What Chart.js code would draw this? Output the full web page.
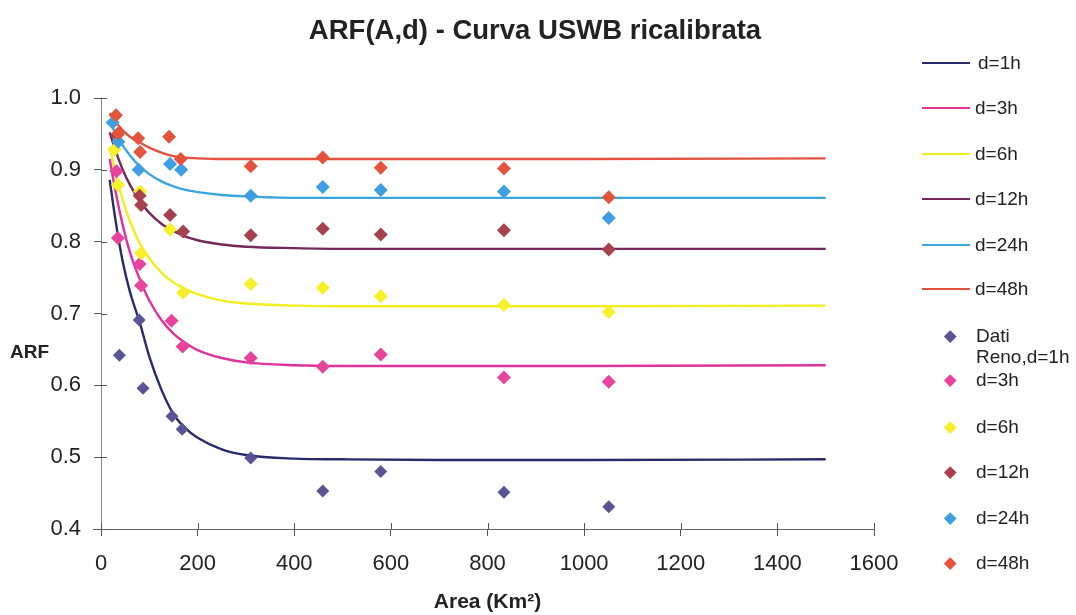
<!DOCTYPE html>
<html><head><meta charset="utf-8">
<script src="https://cdn.jsdelivr.net/npm/chart.js@4"></script>
<style>
html,body{margin:0;padding:0;background:#fff;}
#wrap{position:relative;width:1076px;height:615px;overflow:hidden;}
#c{position:absolute;left:0;top:0;}
.lg{position:absolute;font-family:"Liberation Sans",Arial,sans-serif;font-size:19px;color:#222;line-height:21px;white-space:nowrap;}
.ln{position:absolute;height:2px;}
.mk{position:absolute;width:8.5px;height:8.5px;transform:rotate(45deg);}
.yt{position:absolute;font-family:"Liberation Sans",Arial,sans-serif;font-weight:bold;font-size:19px;color:#222;}
.tt{position:absolute;left:0;width:1070px;text-align:center;font-family:"Liberation Sans",Arial,sans-serif;font-weight:bold;font-size:27.5px;color:#222;line-height:32px;}
</style></head><body>
<div id="wrap"><canvas id="c" width="1076" height="615"></canvas></div>
<script>
// ---- data ----
const chartTitle = 'ARF(A,d) - Curva USWB ricalibrata';
const curveLabels = ['d=1h','d=3h','d=6h','d=12h','d=24h','d=48h'];
const pointLabels = ['Dati\nReno,d=1h','d=3h','d=6h','d=12h','d=24h','d=48h'];
const xTicks = [0,200,400,600,800,1000,1200,1400,1600];
const yTicks = [0.4,0.5,0.6,0.7,0.8,0.9,1.0];

const curveArea = [18,30,45,60,80,100,125,150,175,200,250,300,400,500,700,1000,1500];
const curve1h  = [0.886,0.830,0.772,0.730,0.688,0.640,0.594,0.560,0.540,0.527,0.511,0.503,0.498,0.497,0.496,0.496,0.497];
const curve3h  = [0.915,0.870,0.823,0.785,0.748,0.718,0.691,0.672,0.659,0.649,0.638,0.632,0.628,0.627,0.627,0.627,0.628];
const curve6h  = [0.932,0.896,0.858,0.828,0.798,0.777,0.757,0.743,0.734,0.727,0.718,0.714,0.711,0.710,0.710,0.710,0.711];
const curve12h = [0.952,0.927,0.900,0.879,0.857,0.840,0.825,0.815,0.807,0.802,0.796,0.793,0.791,0.790,0.790,0.790,0.790];
const curve24h = [0.968,0.951,0.934,0.920,0.905,0.894,0.884,0.877,0.872,0.869,0.865,0.863,0.861,0.861,0.861,0.861,0.861];
const curve48h = [0.979,0.967,0.955,0.946,0.938,0.931,0.924,0.919,0.917,0.916,0.915,0.915,0.915,0.915,0.915,0.915,0.916];

const obsArea1h  = [38,79,87,147,168,310,459,579,834,1051];
const obs1h      = [0.642,0.691,0.596,0.557,0.539,0.499,0.453,0.480,0.451,0.431];
const obsArea3h  = [32,35,80,83,146,169,310,459,579,834,1051];
const obs3h      = [0.898,0.805,0.769,0.739,0.690,0.654,0.638,0.626,0.643,0.611,0.605];
const obsArea6h  = [28,35,81,83,143,170,310,459,579,834,1051];
const obs6h      = [0.928,0.879,0.870,0.784,0.817,0.729,0.741,0.736,0.724,0.712,0.702];
const obsArea12h = [33,80,83,143,170,310,459,579,834,1051];
const obs12h     = [0.948,0.864,0.851,0.837,0.814,0.809,0.818,0.810,0.816,0.789];
const obsArea24h = [24,36,78,143,166,310,459,579,834,1051];
const obs24h     = [0.966,0.939,0.900,0.908,0.900,0.864,0.876,0.872,0.870,0.833];
const obsArea48h = [31,36,77,81,141,165,310,459,579,834,1051];
const obs48h     = [0.976,0.951,0.944,0.925,0.946,0.915,0.905,0.917,0.903,0.902,0.862];

// ---- styles ----
const lineColors  = ['#272b6c','#e0329b','#f3ec1e','#74285a','#3ba4df','#e2523f'];
const pointColors = ['#5a5495','#e6449d','#f7ef2a','#a8414f','#3d9fe2','#e4533b'];
const FONT = '"Liberation Sans", Arial, sans-serif';

const curves = [curve1h,curve3h,curve6h,curve12h,curve24h,curve48h];
const obsX = [obsArea1h,obsArea3h,obsArea6h,obsArea12h,obsArea24h,obsArea48h];
const obsY = [obs1h,obs3h,obs6h,obs12h,obs24h,obs48h];

const pair = (xs, ys) => xs.map((x,i)=>({x:x, y:ys[i]}));

const datasets = [];
curves.forEach((c,i)=>{
  datasets.push({
    label: curveLabels[i], data: pair(curveArea,c), showLine:true,
    borderColor: lineColors[i], backgroundColor: lineColors[i], borderWidth: 2.4,
    pointRadius: 0, cubicInterpolationMode:'monotone', order: 20 + i
  });
});
obsY.forEach((ys,i)=>{
  datasets.push({
    label: pointLabels[i].replace('\n',' '), data: pair(obsX[i],ys), showLine:false,
    pointStyle:'rectRot', pointRadius: (i===0?6.5:7), pointHoverRadius: 7,
    backgroundColor: pointColors[i], borderColor: pointColors[i], borderWidth: 0,
    order: 10 - i
  });
});

const crossTicks = {
  id:'crossTicks',
  afterDraw(chart){
    const ctx = chart.ctx, xs = chart.scales.x, ys = chart.scales.y, a = chart.chartArea;
    ctx.save(); ctx.strokeStyle = '#555'; ctx.lineWidth = 1;
    ctx.beginPath();
    xTicks.forEach(v=>{ const p = Math.round(xs.getPixelForValue(v))+0.5; ctx.moveTo(p, a.bottom); ctx.lineTo(p, a.bottom-6); });
    yTicks.forEach(v=>{ const p = Math.round(ys.getPixelForValue(v))+0.5; ctx.moveTo(a.left, p); ctx.lineTo(a.left+6, p); });
    ctx.moveTo(a.left-8, Math.round(a.bottom)+0.5); ctx.lineTo(a.left, Math.round(a.bottom)+0.5);
    ctx.stroke(); ctx.restore();
  }
};

Chart.defaults.font.family = FONT;
Chart.defaults.color = '#222';

new Chart(document.getElementById('c'), {
  type:'scatter',
  data:{datasets},
  options:{
    responsive:false, animation:false, devicePixelRatio:1,
    layout:{padding:{left:0,right:202,top:98,bottom:0}},
    plugins:{ legend:{display:false}, tooltip:{enabled:false}, title:{display:false} },
    scales:{
      x:{type:'linear', min:0, max:1600,
        afterBuildTicks(s){ s.ticks = xTicks.map(v=>({value:v})); },
        afterFit(s){ s.height = 86; },
        grid:{drawOnChartArea:false, drawTicks:true, tickLength:7, color:'#555'},
        border:{color:'#666', width:1},
        ticks:{padding:15, font:{size:22}, color:'#222', maxRotation:0, callback:v=>String(v)},
        title:{display:true, text:'Area (Km²)', font:{size:21, weight:'bold'}, color:'#222', padding:{top:4,bottom:0}}
      },
      y:{type:'linear', min:0.4, max:1.0,
        afterBuildTicks(s){ s.ticks = yTicks.map(v=>({value:v})); },
        afterFit(s){ s.width = 101; },
        grid:{drawOnChartArea:false, drawTicks:true, tickLength:7, color:'#555'},
        border:{color:'#888', width:1},
        ticks:{padding:13, font:{size:22}, color:'#222', callback:v=>Number(v).toFixed(1)}
      }
    }
  },
  plugins:[crossTicks]
});

// ---- title, legend, axis label (HTML text) ----
const wrap = document.getElementById('wrap');
const tt = document.createElement('div'); tt.className='tt'; tt.textContent=chartTitle;
tt.style.top='14px'; wrap.appendChild(tt);
const lineY = [63,108,154,199,245,289];
const markY = [336,380,427,472,518,563];
curveLabels.forEach((t,i)=>{
  const l = document.createElement('div'); l.className='ln';
  l.style.left='922px'; l.style.width='48px'; l.style.top=(lineY[i]-1)+'px'; l.style.background=lineColors[i];
  wrap.appendChild(l);
  const d = document.createElement('div'); d.className='lg'; d.textContent=t;
  d.style.left=(i===0?978:975)+'px'; d.style.top=(lineY[i]-11)+'px';
  wrap.appendChild(d);
});
pointLabels.forEach((t,i)=>{
  const m = document.createElement('div'); m.className='mk';
  m.style.left=(950-4.25)+'px'; m.style.top=(markY[i]-4.25)+'px'; m.style.background=pointColors[i];
  wrap.appendChild(m);
  t.split('\n').forEach((s,k)=>{
    const d = document.createElement('div'); d.className='lg'; d.textContent=s;
    d.style.left='976px'; d.style.top=(markY[i]-11+k*21)+'px';
    wrap.appendChild(d);
  });
});
const yt = document.createElement('div'); yt.className='yt'; yt.textContent='ARF';
yt.style.left='10px'; yt.style.top='341px'; wrap.appendChild(yt);
</script>
</body></html>
